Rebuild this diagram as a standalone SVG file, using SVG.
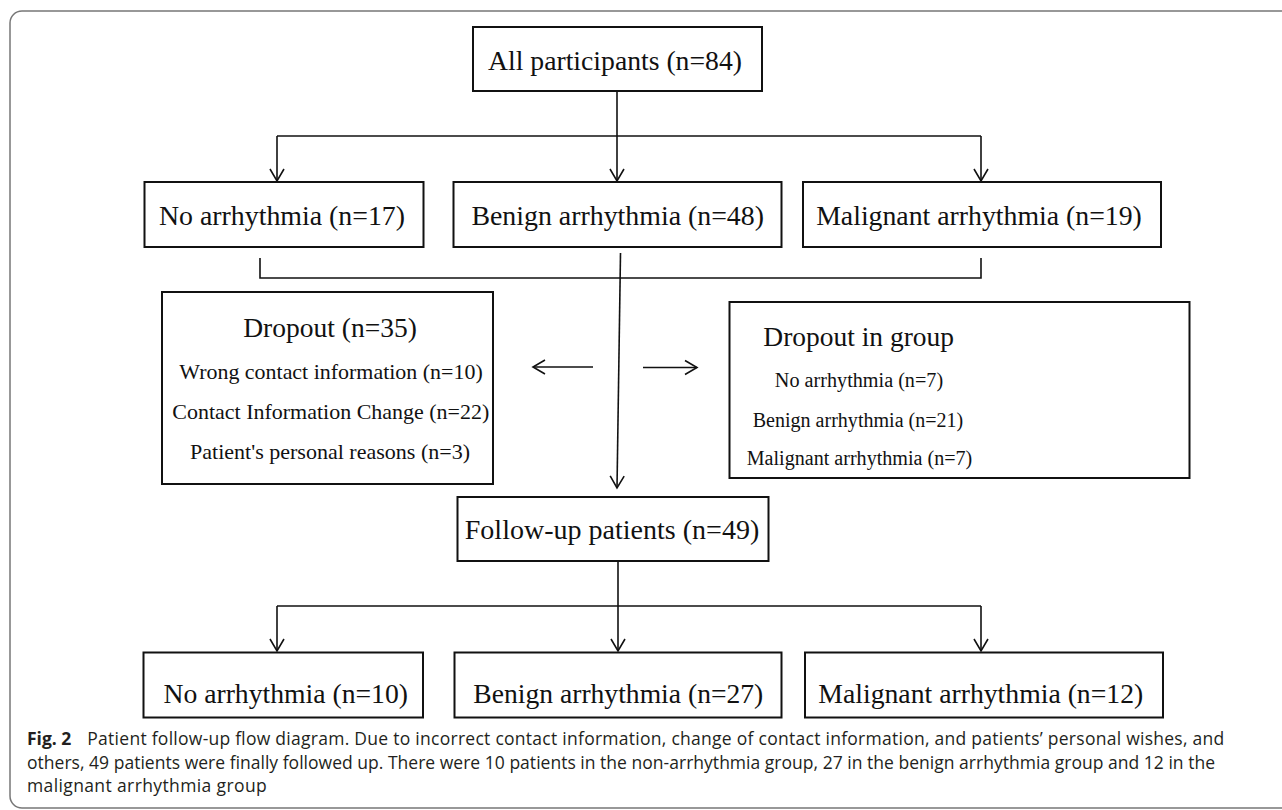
<svg xmlns="http://www.w3.org/2000/svg" width="1282" height="810" viewBox="0 0 1282 810">
<defs>
<style>
.box{fill:#fff;stroke:#111;stroke-width:2}
.con{fill:none;stroke:#111;stroke-width:1.6}
.t{font-family:"Liberation Serif","Times New Roman",serif;fill:#111;text-anchor:middle}
.b{font-size:28px}
.h{font-size:27.5px}
.s1{font-size:22px}
.s2{font-size:20px}
.cap{font-family:"Open Sans","Liberation Sans",sans-serif;font-size:17.5px;fill:#231f20}
</style>
<marker id="ah" markerUnits="userSpaceOnUse" markerWidth="30" markerHeight="30" viewBox="-15 -15 30 30" refX="0" refY="0" orient="auto">
<path d="M-12,-7 L0,0 L-12,7" fill="none" stroke="#111" stroke-width="1.6"/>
</marker>
</defs>
<rect x="10" y="11" width="1300" height="797" rx="12" fill="#fff" stroke="#777" stroke-width="1.5"/>

<g id="connectors">
<path class="con" d="M617,91 V181" marker-end="url(#ah)"/>
<path class="con" d="M277,136 H981"/>
<path class="con" d="M277,136 V181" marker-end="url(#ah)"/>
<path class="con" d="M981,136 V181" marker-end="url(#ah)"/>
<path class="con" d="M260,258 V278 H981 V258"/>
<path class="con" d="M620.5,253 L617,488" marker-end="url(#ah)"/>
<path class="con" d="M593,367 H533" marker-end="url(#ah)"/>
<path class="con" d="M643,367.5 H697" marker-end="url(#ah)"/>
<path class="con" d="M618,561 V651" marker-end="url(#ah)"/>
<path class="con" d="M277,606 H981"/>
<path class="con" d="M277,606 V651" marker-end="url(#ah)"/>
<path class="con" d="M981,606 V651" marker-end="url(#ah)"/>
</g>

<g id="all">
<rect class="box" x="473" y="27" width="289" height="64"/>
<text class="t b" x="615" y="70" textLength="254" lengthAdjust="spacingAndGlyphs">All participants (n=84)</text>
</g>
<g id="no1">
<rect class="box" x="144.5" y="182" width="279" height="65"/>
<text class="t b" x="282" y="225" textLength="246" lengthAdjust="spacingAndGlyphs">No arrhythmia (n=17)</text>
</g>
<g id="benign1">
<rect class="box" x="453.5" y="182" width="328" height="65"/>
<text class="t b" x="617.7" y="225" textLength="292.6" lengthAdjust="spacingAndGlyphs">Benign arrhythmia (n=48)</text>
</g>
<g id="malig1">
<rect class="box" x="803" y="182" width="358" height="65"/>
<text class="t b" x="979" y="225" textLength="325.7" lengthAdjust="spacingAndGlyphs">Malignant arrhythmia (n=19)</text>
</g>
<g id="dropout">
<rect class="box" x="162" y="292" width="331" height="192"/>
<text class="t h" x="330" y="337" textLength="173.7" lengthAdjust="spacingAndGlyphs">Dropout (n=35)</text>
<text class="t s1" x="331" y="379.3" textLength="303.4" lengthAdjust="spacingAndGlyphs">Wrong contact information (n=10)</text>
<text class="t s1" x="330.8" y="419.3" textLength="317" lengthAdjust="spacingAndGlyphs">Contact Information Change (n=22)</text>
<text class="t s1" x="330" y="459.3" textLength="280" lengthAdjust="spacingAndGlyphs">Patient's personal reasons (n=3)</text>
</g>
<g id="dropoutgroup">
<rect class="box" x="729.5" y="302" width="460" height="176"/>
<text class="t h" x="858.7" y="346" textLength="190.7" lengthAdjust="spacingAndGlyphs">Dropout in group</text>
<text class="t s2" x="859" y="387.3" textLength="168.3" lengthAdjust="spacingAndGlyphs">No arrhythmia (n=7)</text>
<text class="t s2" x="858" y="426.7" textLength="210.6" lengthAdjust="spacingAndGlyphs">Benign arrhythmia (n=21)</text>
<text class="t s2" x="859.5" y="465" textLength="225.6" lengthAdjust="spacingAndGlyphs">Malignant arrhythmia (n=7)</text>
</g>
<g id="followup">
<rect class="box" x="457.5" y="497" width="311" height="64"/>
<text class="t b" x="612" y="539" textLength="294.5" lengthAdjust="spacingAndGlyphs">Follow-up patients (n=49)</text>
</g>
<g id="no2">
<rect class="box" x="143.5" y="652.5" width="279.5" height="65"/>
<text class="t b" x="285.7" y="703" textLength="244.5" lengthAdjust="spacingAndGlyphs">No arrhythmia (n=10)</text>
</g>
<g id="benign2">
<rect class="box" x="454.5" y="652.5" width="327" height="65"/>
<text class="t b" x="618.3" y="703" textLength="290" lengthAdjust="spacingAndGlyphs">Benign arrhythmia (n=27)</text>
</g>
<g id="malig2">
<rect class="box" x="805" y="652.5" width="358" height="65"/>
<text class="t b" x="980.8" y="703" textLength="325" lengthAdjust="spacingAndGlyphs">Malignant arrhythmia (n=12)</text>
</g>

<g id="caption">
<text class="cap" x="27" y="745" font-weight="bold">Fig. 2</text>
<text class="cap" x="87.3" y="745" textLength="1137" lengthAdjust="spacing">Patient follow-up flow diagram. Due to incorrect contact information, change of contact information, and patients’ personal wishes, and</text>
<text class="cap" x="27" y="768.5" textLength="1188" lengthAdjust="spacing">others, 49 patients were finally followed up. There were 10 patients in the non-arrhythmia group, 27 in the benign arrhythmia group and 12 in the</text>
<text class="cap" x="27" y="792" textLength="239.7" lengthAdjust="spacing">malignant arrhythmia group</text>
</g>
</svg>
